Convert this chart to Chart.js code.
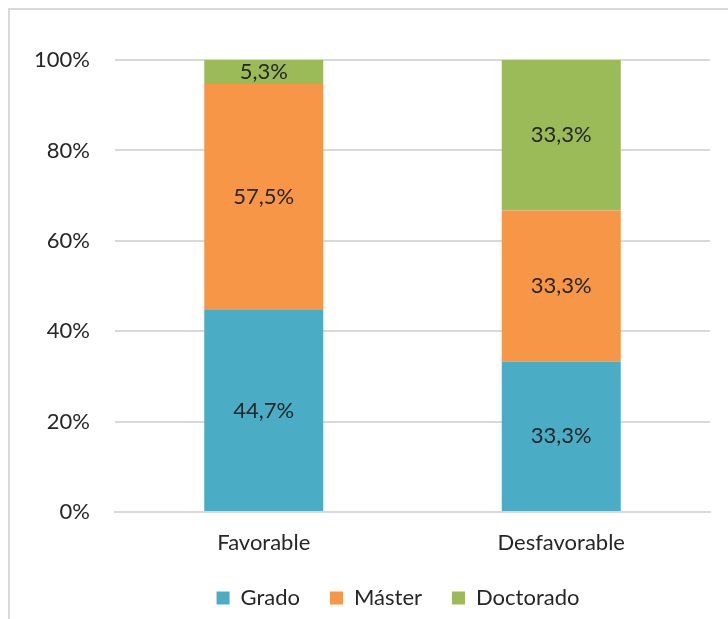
<!DOCTYPE html>
<html>
<head>
<meta charset="utf-8">
<script src="https://cdn.jsdelivr.net/npm/chart.js@4"></script>
<style>
  body { margin: 0; background: #fff; }
  #wrap { position: absolute; left: 0; top: 0; width: 728px; height: 619px; }
  #frame { position: absolute; left: 8px; top: 8px; width: 720px; height: 611px;
           border-top: 2px solid #d9d9d9; border-left: 2px solid #d9d9d9; box-sizing: border-box; pointer-events: none; }
</style>
</head>
<body>
<div id="wrap">
  <canvas id="myChart" width="728" height="619"></canvas>
  <div id="frame"></div>
</div>
<script>
const categories = ['Favorable', 'Desfavorable'];

// heights of the segments (percent)
const grado = [44.7, 33.3];
const master = [50.0, 33.4];
const doctorado = [5.3, 33.3];

// label texts as printed on the bars
const gradoLabels = ['44,7%', '33,3%'];
const masterLabels = ['57,5%', '33,3%'];
const doctoradoLabels = ['5,3%', '33,3%'];

const yTicks = [0, 20, 40, 60, 80, 100];

const fontFamily = 'Lato, "Open Sans", sans-serif';

// writes the percentage in the middle of each segment
const barLabels = {
  id: 'barLabels',
  afterDatasetsDraw(chart) {
    const ctx = chart.ctx;
    ctx.save();
    ctx.font = '22px ' + fontFamily;
    ctx.fillStyle = '#262626';
    ctx.textAlign = 'center';
    ctx.textBaseline = 'middle';
    chart.data.datasets.forEach((ds, i) => {
      chart.getDatasetMeta(i).data.forEach((bar, j) => {
        const mid = (bar.y + bar.base) / 2;
        ctx.fillText(ds.shownLabels[j], bar.x, mid);
      });
    });
    ctx.restore();
  }
};

// legend in the original is centred a bit right of the canvas middle
const legendShift = {
  id: 'legendShift',
  afterLayout(chart) {
    chart.legend.left += 43;
    chart.legend.right += 43;
  }
};

const data = {
  labels: categories,
  datasets: [
    { label: 'Grado', data: grado, shownLabels: gradoLabels, backgroundColor: '#4BACC6' },
    { label: 'Máster', data: master, shownLabels: masterLabels, backgroundColor: '#F79646' },
    { label: 'Doctorado', data: doctorado, shownLabels: doctoradoLabels, backgroundColor: '#9BBB59' }
  ]
};

const config = {
  type: 'bar',
  data: data,
  plugins: [barLabels, legendShift],
  options: {
    responsive: false,
    animation: false,
    layout: { padding: { top: 60, right: 18, bottom: 0, left: 0 } },
    datasets: { bar: { categoryPercentage: 1, barPercentage: 0.4 } },
    plugins: {
      tooltip: { enabled: false },
      legend: {
        position: 'bottom',
        labels: {
          font: { family: fontFamily, size: 22 },
          color: '#262626',
          boxWidth: 13,
          boxHeight: 13,
          padding: 30
        }
      }
    },
    scales: {
      x: {
        stacked: true,
        grid: { display: false },
        border: { color: '#d9d9d9', width: 2 },
        ticks: { font: { family: fontFamily, size: 22 }, color: '#262626', padding: 10 },
        afterFit(scale) { scale.height -= 9.5; }
      },
      y: {
        stacked: true,
        min: 0,
        max: 100,
        afterBuildTicks(scale) { scale.ticks = yTicks.map(v => ({ value: v })); },
        afterFit(scale) { scale.width = 115; },
        grid: { color: '#d9d9d9', lineWidth: 2, drawTicks: false },
        border: { display: false },
        ticks: {
          font: { family: fontFamily, size: 22 },
          color: '#262626',
          padding: 25,
          callback: v => v + '%'
        }
      }
    }
  }
};

const myChart = new Chart(document.getElementById('myChart'), config);
</script>
</body>
</html>
